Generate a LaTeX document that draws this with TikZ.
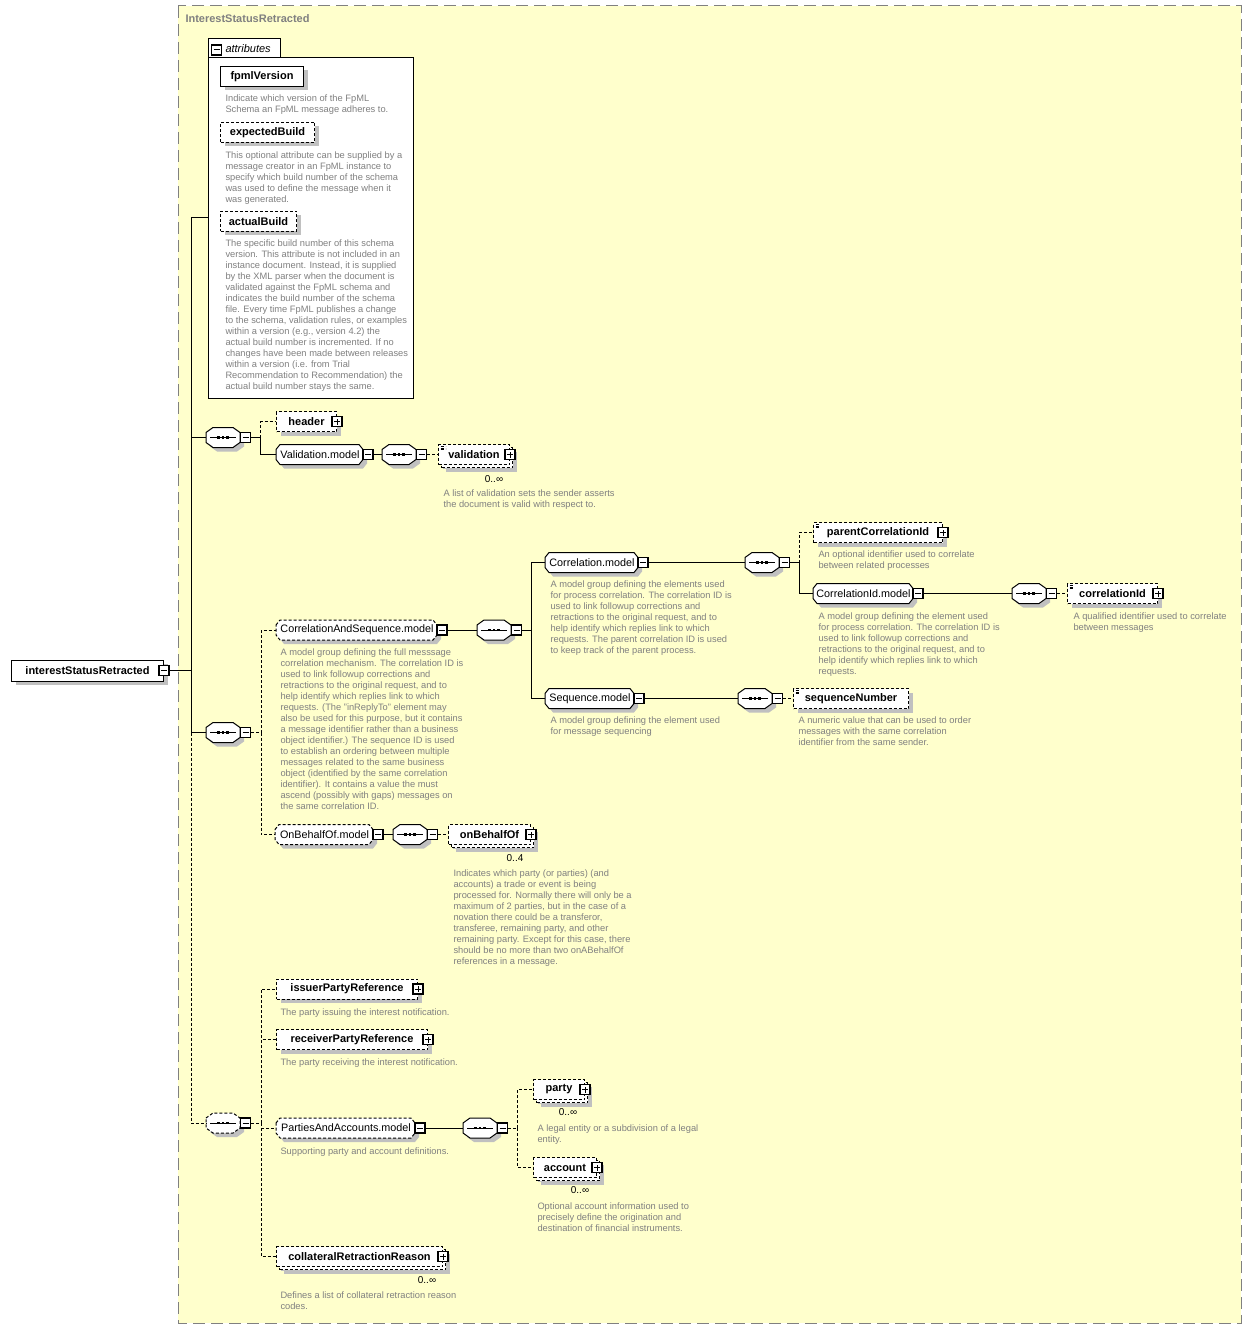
\documentclass[tikz,border=0pt]{standalone}
\usepackage{fontspec}
\setmainfont{Liberation Sans}
\usetikzlibrary{calc,shadows}
\definecolor{panel}{RGB}{255,255,204}
\definecolor{shadowgray}{RGB}{192,192,192}
\definecolor{doctext}{RGB}{128,128,128}
\definecolor{framegray}{RGB}{128,128,128}
\begin{document}
\begin{tikzpicture}[x=1pt, y=-1pt, line width=1pt,
    elem/.style={draw, fill=white, minimum height=20, inner sep=0, anchor=west,
        font=\fontsize{11}{13}\selectfont\bfseries,
        drop shadow={fill=shadowgray, opacity=1, shadow xshift=4pt, shadow yshift=-4pt}},
    opt/.style={dash pattern=on 3pt off 2pt},
    many/.style={preaction={fill=shadowgray, transform canvas={shift={(7pt,-7pt)}}},
        preaction={draw, fill=white, dash pattern=on 3pt off 2pt, transform canvas={shift={(3pt,-3pt)}}}},
    simple/.style={path picture={\draw[line width=.6pt]
        ([shift={(2pt,-2pt)}]path picture bounding box.north west) -- ++(5pt,0pt)
        ([shift={(2pt,-3.6pt)}]path picture bounding box.north west) -- ++(5pt,0pt)
        ([shift={(2pt,-5.2pt)}]path picture bounding box.north west) -- ++(5pt,0pt);}},
    grplabel/.style={inner sep=0, minimum height=20, anchor=west, font=\fontsize{10.8}{13}\selectfont},
    seqhit/.style={inner sep=0, minimum width=34, minimum height=20, anchor=west},
    btn/.style={draw, fill=white, line width=1.2pt, minimum size=10, inner sep=0},
    minusbtn/.style={btn, path picture={\draw[line width=1pt]
        ([xshift=2pt]path picture bounding box.west) -- ([xshift=-2pt]path picture bounding box.east);}},
    plusbtn/.style={btn, path picture={\draw[line width=1pt]
        ([xshift=2pt]path picture bounding box.west) -- ([xshift=-2pt]path picture bounding box.east)
        ([yshift=2pt]path picture bounding box.south) -- ([yshift=-2pt]path picture bounding box.north);}},
    doc/.style={anchor=north west, yshift=6.7pt, align=left, inner sep=0, text=doctext,
        font=\fontsize{9.3}{11}\selectfont, execute at begin node=\strut},
    card/.style={inner sep=0, font=\fontsize{10}{12}\selectfont}]
\useasboundingbox (0,0) rectangle (1252,1329);
% Variables: 1 := west point, 2 := ID, 3 := line style.
\def\seqsym(#1)#2#3{
    \begin{scope}[shift={(#1)}]
        \fill[shadowgray] (4,-1) -- (11,-6) -- (31,-6) -- (38,-1) -- (38,9) -- (31,14) -- (11,14) -- (4,9) -- cycle;
        \draw[fill=white, #3] (0,-5) -- (7,-10) -- (27,-10) -- (34,-5) -- (34,5) -- (27,10) -- (7,10) -- (0,5) -- cycle;
        \draw (4,0) -- (30,0);
        \foreach \d in {12.5,17,21.5} \fill (\d-1.25,-1.25) rectangle ++(2.5,2.5);
        \node[seqhit] (#2) at (0,0) {};
        \node[minusbtn] (#2 btn) at (39.5,0) {};
    \end{scope}
}
% Variables: 1 := west point, 2 := ID, 3 := width, 4 := line style, 5 := label.
\def\modelgrp(#1)#2#3#4#5{
    \begin{scope}[shift={(#1)}]
        \fill[shadowgray] (4,-1) -- (8,-6) -- (#3,-6) -- (#3+4,-1) -- (#3+4,9) -- (#3,14) -- (8,14) -- (4,9) -- cycle;
        \draw[fill=white, #4] (0,-5) -- (4,-10) -- (#3-4,-10) -- (#3,-5) -- (#3,5) -- (#3-4,10) -- (4,10) -- (0,5) -- cycle;
        \node[grplabel, minimum width=#3] (#2) at (0,0) {#5};
        \node[minusbtn] (#2 btn) at (#3+5,0) {};
    \end{scope}
}
\draw[framegray, dash pattern=on 12pt off 6pt, fill=panel] (178,6) rectangle (1241,1323);
\node[anchor=west, inner sep=0, text=framegray, font=\fontsize{11}{13}\selectfont\bfseries] (title) at (185,19) {InterestStatusRetracted};
\node[elem, minimum width=152, minimum height=21] (root) at (11,670.5) {interestStatusRetracted};
\node[minusbtn] (root btn) at (root.east) {};
% attributes
\node[draw, fill=white, anchor=north west, minimum width=205, minimum height=341, inner sep=0] (attrs) at (208,57) {};
\draw[fill=white] (attrs.north west) -- ++(0,-18) -- ++(72,0) -- ++(0,18);
\node[minusbtn] (attrs btn) at (216.5,50) {};
\node[anchor=west, inner sep=0, font=\fontsize{11}{13}\selectfont\itshape] (attrs tab) at (225,48.5) {attributes};
\node[elem, minimum width=83] (fpmlVersion) at (220,76.5) {fpmlVersion};
\node[doc] (fpmlVersion doc) at (225,101) {Indicate which version of the FpML\\Schema an FpML message adheres to.};
\node[elem, opt, minimum width=94] (expectedBuild) at (220,132.5) {expectedBuild};
\node[doc] (expectedBuild doc) at (225,158) {This optional attribute can be supplied by a\\message creator in an FpML instance to\\specify which build number of the schema\\was used to define the message when it\\was generated.};
\node[elem, opt, minimum width=76] (actualBuild) at (220,221.5) {actualBuild};
\node[doc] (actualBuild doc) at (225,246) {The specific build number of this schema\\version. This attribute is not included in an\\instance document. Instead, it is supplied\\by the XML parser when the document is\\validated against the FpML schema and\\indicates the build number of the schema\\file. Every time FpML publishes a change\\to the schema, validation rules, or examples\\within a version (e.g., version 4.2) the\\actual build number is incremented. If no\\changes have been made between releases\\within a version (i.e. from Trial\\Recommendation to Recommendation) the\\actual build number stays the same.};
% header and validation
\seqsym(206,437.5){s1}{}
\node[elem, opt, minimum width=60] (header) at (276,421.5) {header};
\node[plusbtn] (header btn) at (header.east) {};
\modelgrp(276,454.5){valm}{87}{}{Validation.model}
\seqsym(382,454.5){s2}{}
\node[elem, opt, many, simple, minimum width=71] (validation) at (438,454.5) {validation};
\node[plusbtn] (validation btn) at (validation.east) {};
\node[card] (validation card) at (494,479) {0..∞};
\node[doc] (validation doc) at (443,496) {A list of validation sets the sender asserts\\the document is valid with respect to.};
% correlation and sequence
\seqsym(206,732.5){s3}{}
\modelgrp(276,630){casm}{161}{opt}{CorrelationAndSequence.model}
\node[doc] (casm doc) at (280,655) {A model group defining the full messsage\\correlation mechanism. The correlation ID is\\used to link followup corrections and\\retractions to the original request, and to\\help identify which replies link to which\\requests. (The "inReplyTo" element may\\also be used for this purpose, but it contains\\a message identifier rather than a business\\object identifier.) The sequence ID is used\\to establish an ordering between multiple\\messages related to the same business\\object (identified by the same correlation\\identifier). It contains a value the must\\ascend (possibly with gaps) messages on\\the same correlation ID.};
\seqsym(477,630){s5}{}
\modelgrp(545,562.5){corm}{93}{}{Correlation.model}
\node[doc] (corm doc) at (550,587) {A model group defining the elements used\\for process correlation. The correlation ID is\\used to link followup corrections and\\retractions to the original request, and to\\help identify which replies link to which\\requests. The parent correlation ID is used\\to keep track of the parent process.};
\seqsym(745,562.5){s6}{}
\node[elem, opt, simple, minimum width=129] (parentCorrelationId) at (813,532.5) {parentCorrelationId};
\node[plusbtn] (parentCorrelationId btn) at (parentCorrelationId.east) {};
\node[doc] (parentCorrelationId doc) at (818,557) {An optional identifier used to correlate\\between related processes};
\modelgrp(813,593.5){cidm}{100}{}{CorrelationId.model}
\node[doc] (cidm doc) at (818,619) {A model group defining the element used\\for process correlation. The correlation ID is\\used to link followup corrections and\\retractions to the original request, and to\\help identify which replies link to which\\requests.};
\seqsym(1012,593.5){s7}{}
\node[elem, opt, simple, minimum width=90] (correlationId) at (1067,593.5) {correlationId};
\node[plusbtn] (correlationId btn) at (correlationId.east) {};
\node[doc] (correlationId doc) at (1073,619) {A qualified identifier used to correlate\\between messages};
\modelgrp(545,698.5){seqm}{89}{}{Sequence.model}
\node[doc] (seqm doc) at (550,723) {A model group defining the element used\\for message sequencing};
\seqsym(738,698.5){s8}{}
\node[elem, opt, simple, minimum width=115] (sequenceNumber) at (793,698.5) {sequenceNumber};
\node[doc] (sequenceNumber doc) at (798,723) {A numeric value that can be used to order\\messages with the same correlation\\identifier from the same sender.};
\modelgrp(275,834.5){obom}{98}{opt}{OnBehalfOf.model}
\seqsym(393,834.5){s9}{}
\node[elem, opt, many, minimum width=82] (onBehalfOf) at (448,834.5) {onBehalfOf};
\node[plusbtn] (onBehalfOf btn) at (onBehalfOf.east) {};
\node[card] (onBehalfOf card) at (515,858) {0..4};
\node[doc] (onBehalfOf doc) at (453,876) {Indicates which party (or parties) (and\\accounts) a trade or event is being\\processed for. Normally there will only be a\\maximum of 2 parties, but in the case of a\\novation there could be a transferor,\\transferee, remaining party, and other\\remaining party. Except for this case, there\\should be no more than two onABehalfOf\\references in a message.};
% parties
\seqsym(206,1123){s4}{opt}
\node[elem, opt, minimum width=141] (issuerPartyReference) at (276,989) {issuerPartyReference};
\node[plusbtn] (issuerPartyReference btn) at (issuerPartyReference.east) {};
\node[doc] (issuerPartyReference doc) at (280,1014) {The party issuing the interest notification.};
\node[elem, opt, minimum width=151] (receiverPartyReference) at (276,1039.5) {receiverPartyReference};
\node[plusbtn] (receiverPartyReference btn) at (receiverPartyReference.east) {};
\node[doc] (receiverPartyReference doc) at (280,1064) {The party receiving the interest notification.};
\modelgrp(276,1128){pam}{139}{opt}{PartiesAndAccounts.model}
\node[doc] (pam doc) at (280,1153) {Supporting party and account definitions.};
\seqsym(463,1128){s10}{}
\node[elem, opt, many, minimum width=51] (party) at (533,1089.5) {party};
\node[plusbtn] (party btn) at (party.east) {};
\node[card] (party card) at (568,1112.5) {0..∞};
\node[doc] (party doc) at (537,1131) {A legal entity or a subdivision of a legal\\entity.};
\node[elem, opt, many, minimum width=63] (account) at (533,1167.5) {account};
\node[plusbtn] (account btn) at (account.east) {};
\node[card] (account card) at (580,1190.5) {0..∞};
\node[doc] (account doc) at (537,1209) {Optional account information used to\\precisely define the origination and\\destination of financial instruments.};
\node[elem, opt, many, minimum width=166] (collateralRetractionReason) at (276,1256.5) {collateralRetractionReason};
\node[plusbtn] (collateralRetractionReason btn) at (collateralRetractionReason.east) {};
\node[card] (collateralRetractionReason card) at (427,1280) {0..∞};
\node[doc] (collateralRetractionReason doc) at (280,1298) {Defines a list of collateral retraction reason\\codes.};
% connectors
\coordinate (trunk) at (191,218);
\coordinate (fork1) at (260.5,437.5);
\coordinate (fork3) at (261,732.5);
\coordinate (fork4) at (261,1123);
\coordinate (fork5) at (531,630);
\coordinate (fork6) at (799,562.5);
\coordinate (fork10) at (517.5,1128);
\draw (root btn.east) -- (root btn.east -| trunk);
\draw (trunk) -- (trunk -| attrs.west);
\draw (trunk) -- (trunk |- s3.west) -- (s3.west);
\draw (trunk |- s1.west) -- (s1.west);
\draw[opt] (trunk |- s3.west) -- (trunk |- s4.west) -- (s4.west);
\draw (s1 btn.east) -- (fork1);
\draw[opt] (fork1) |- (header.west);
\draw (fork1) |- (valm.west);
\draw (valm btn.east) -- (s2.west);
\draw[opt] (s2 btn.east) -- (validation.west);
\draw[opt] (s3 btn.east) -- (fork3);
\draw[opt] (fork3) |- (casm.west);
\draw[opt] (fork3) |- (obom.west);
\draw (casm btn.east) -- (s5.west);
\draw (s5 btn.east) -- (fork5);
\draw (fork5) |- (corm.west);
\draw (fork5) |- (seqm.west);
\draw (corm btn.east) -- (s6.west);
\draw (s6 btn.east) -- (fork6);
\draw[opt] (fork6) |- (parentCorrelationId.west);
\draw (fork6) |- (cidm.west);
\draw (cidm btn.east) -- (s7.west);
\draw[opt] (s7 btn.east) -- (correlationId.west);
\draw (seqm btn.east) -- (s8.west);
\draw[opt] (s8 btn.east) -- (sequenceNumber.west);
\draw (obom btn.east) -- (s9.west);
\draw[opt] (s9 btn.east) -- (onBehalfOf.west);
\draw[opt] (s4 btn.east) -- (fork4);
\draw[opt] (fork4) |- (issuerPartyReference.west);
\draw[opt] (fork4) |- (receiverPartyReference.west);
\draw[opt] (fork4) |- (pam.west);
\draw[opt] (fork4) |- (collateralRetractionReason.west);
\draw (pam btn.east) -- (s10.west);
\draw[opt] (s10 btn.east) -- (fork10);
\draw[opt] (fork10) |- (party.west);
\draw[opt] (fork10) |- (account.west);
\end{tikzpicture}
\end{document}
